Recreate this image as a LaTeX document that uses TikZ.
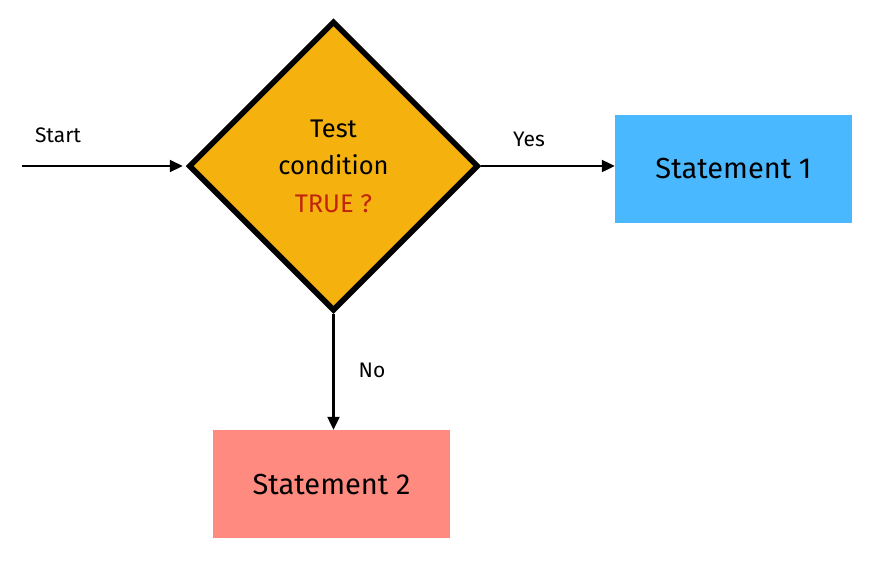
\documentclass[tikz,border=0pt]{standalone}
\usepackage{fontspec}
\setmainfont{Fira Sans}
\usetikzlibrary{shapes.geometric,arrows.meta}
\definecolor{dyellow}{HTML}{F5B20F}
\definecolor{sblue}{HTML}{4AB8FF}
\definecolor{sred}{HTML}{FF8A80}
\definecolor{tred}{HTML}{C0250C}
\tikzset{
  arr/.style={line width=2.2pt,-{Triangle[length=13pt,width=12pt]}},
  lbl/.style={font=\fontsize{21}{24}\selectfont,inner sep=0pt},
  stmt/.style={minimum width=237pt,inner sep=0pt,font=\fontsize{29}{32}\selectfont},
}
\begin{document}
\begin{tikzpicture}[x=1pt,y=-1pt]
\useasboundingbox (0,0) rectangle (872,566);
\node[diamond,draw=black,fill=dyellow,line width=5.5pt,minimum width=290pt,minimum height=290pt,inner sep=0pt,align=center,font=\fontsize{25.5}{37.5}\selectfont] (d) at (333.5,166) {Test\\condition\\\textcolor{tred}{TRUE ?}};
\node[stmt,fill=sblue,minimum height=108pt] (s1) at (733.5,169) {Statement 1};
\node[stmt,fill=sred,minimum height=108pt] (s2) at (331.5,484) {Statement 2};
\coordinate (st) at (22,166);
\draw[arr] (st) -- ([xshift=-3pt]d.west);
\draw[arr] (d.east) -- (s1.west |- d.east);
\draw[arr] (d.south) -- (d.south |- s2.north);
\node[lbl] (lstart) at (58,135) {Start};
\node[lbl] (lyes) at (529,139) {Yes};
\node[lbl] (lno) at (372,370) {No};
\end{tikzpicture}
\end{document}
